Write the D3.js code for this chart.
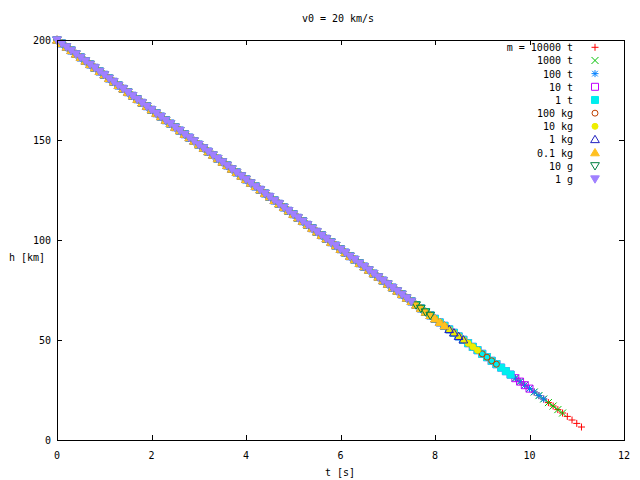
<!DOCTYPE html>
<html><head><meta charset="utf-8">
<script src="https://cdn.jsdelivr.net/npm/d3@7"></script>
<style>
html,body{margin:0;padding:0;background:#fff;}
text{font-family:"DejaVu Sans Mono",monospace;font-size:10px;fill:#000;}
</style></head><body>
<svg id="chart" width="640" height="480"></svg>
<script>
// Shared trajectory (t in s, h in km)
const trackTime = [0.0,0.1,0.2,0.3,0.4,0.5,0.6,0.7,0.8,0.9,1.0,1.1,1.2,1.3,1.4,1.5,1.6,1.7,1.8,1.9,
2.0,2.1,2.2,2.3,2.4,2.5,2.6,2.7,2.8,2.9,3.0,3.1,3.2,3.3,3.4,3.5,3.6,3.7,3.8,3.9,
4.0,4.1,4.2,4.3,4.4,4.5,4.6,4.7,4.8,4.9,5.0,5.1,5.2,5.3,5.4,5.5,5.6,5.7,5.8,5.9,
6.0,6.1,6.2,6.3,6.4,6.5,6.6,6.7,6.8,6.9,7.0,7.1,7.2,7.3,7.4,7.5,7.6,7.7,7.8,7.9,
8.0,8.1,8.2,8.3,8.4,8.5,8.6,8.7,8.8,8.9,9.0,9.1,9.2,9.3,9.4,9.5,9.6,9.7,9.8,9.9,
10.0,10.1,10.2,10.3,10.4,10.5,10.6,10.7,10.8,10.9,11.0,11.1];
const trackHeight = [200.0,198.3,196.5,194.8,193.0,191.3,189.5,187.8,186.1,184.3,182.6,180.8,179.1,177.3,175.6,173.9,172.1,170.4,168.6,166.9,
165.1,163.4,161.7,159.9,158.2,156.4,154.7,152.9,151.2,149.5,147.7,146.0,144.2,142.5,140.7,139.0,137.3,135.5,133.8,132.0,
130.3,128.5,126.8,125.1,123.3,121.6,119.8,118.1,116.3,114.6,112.9,111.1,109.4,107.6,105.9,104.1,102.4,100.6,98.9,97.2,
95.4,93.7,91.9,90.2,88.4,86.7,85.0,83.2,81.5,79.7,78.0,76.2,74.5,72.8,71.0,69.3,67.5,65.8,64.0,62.3,
60.6,58.8,57.1,55.3,53.6,51.8,50.1,48.4,46.6,44.9,43.1,41.4,39.6,37.9,36.2,34.4,32.7,30.9,29.2,27.4,
25.7,24.0,22.2,20.5,18.7,17.0,15.2,13.5,11.8,10.0,8.3,6.5];

const seriesLabels = ["m = 10000 t","1000 t","100 t","10 t","1 t","100 kg","10 kg","1 kg","0.1 kg","10 g","1 g"];
const seriesEndTime = [11.1,10.7,10.3,10.0,9.6,9.3,8.9,8.6,8.2,7.9,7.5];
const seriesColors = ["#ff0000","#00c000","#0080ff","#c000ff","#00eeee","#c04000","#eeee00","#2020c0","#ffc020","#008040","#a080ff"];
const seriesMarkers = ["plus","cross","star","box","fbox","circle","fcircle","tri","ftri","itri","fitri"];

const xTicks = [0,2,4,6,8,10,12];
const yTicks = [0,50,100,150,200];

const svg = d3.select("#chart");
const L = 57, R = 624, T = 40, B = 440;
const x = d3.scaleLinear().domain([0,12]).range([L,R]);
const y = d3.scaleLinear().domain([0,200]).range([B,T]);

function markerPath(type){
  const s = 3.5;
  switch(type){
    case "plus": return `M${-s},0H${s}M0,${-s}V${s}`;
    case "cross": return `M${-s},${-s}L${s},${s}M${-s},${s}L${s},${-s}`;
    case "star": return `M${-s},0H${s}M0,${-s}V${s}M${-s*0.8},${-s*0.8}L${s*0.8},${s*0.8}M${-s*0.8},${s*0.8}L${s*0.8},${-s*0.8}`;
    case "box": case "fbox": return `M${-s},${-s}H${s}V${s}H${-s}Z`;
    case "circle": case "fcircle": return d3.symbol(d3.symbolCircle, 28)();
    case "tri": case "ftri": return `M0,${-s*1.2}L${s*1.25},${s*0.9}L${-s*1.25},${s*0.9}Z`;
    case "itri": case "fitri": return `M0,${s*1.2}L${s*1.25},${-s*0.9}L${-s*1.25},${-s*0.9}Z`;
  }
}
function isFilled(type){ return type.startsWith("f"); }

// plot series
const series = seriesLabels.map((lab,i)=>({
  label: lab, color: seriesColors[i], marker: seriesMarkers[i],
  points: trackTime.map((t,k)=>({t, h: trackHeight[k]})).filter(p=>p.t <= seriesEndTime[i] + 1e-9)
}));

const plot = svg.append("g");
series.forEach(s=>{
  const path = markerPath(s.marker);
  const filled = isFilled(s.marker);
  plot.append("g").selectAll("path").data(s.points).join("path")
    .attr("d", path)
    .attr("transform", d=>`translate(${x(d.t)},${y(d.h)})`)
    .attr("fill", filled ? s.color : "none")
    .attr("stroke", s.color)
    .attr("stroke-width", 1);
});

// frame
svg.append("rect").attr("x",L+0.5).attr("y",T+0.5).attr("width",R-L).attr("height",B-T)
  .attr("fill","none").attr("stroke","#000").attr("stroke-width",1).attr("shape-rendering","crispEdges");

// axes with inward ticks and mirrored ticks
const tl = 5;
const ax = svg.append("g").attr("shape-rendering","crispEdges").attr("stroke","#000");
xTicks.forEach(v=>{
  const px = Math.round(x(v))+0.5;
  ax.append("line").attr("x1",px).attr("x2",px).attr("y1",B).attr("y2",B-tl);
  ax.append("line").attr("x1",px).attr("x2",px).attr("y1",T).attr("y2",T+tl);
});
yTicks.forEach(v=>{
  const py = Math.round(y(v))+0.5;
  ax.append("line").attr("x1",L).attr("x2",L+tl).attr("y1",py).attr("y2",py);
  ax.append("line").attr("x1",R).attr("x2",R-tl).attr("y1",py).attr("y2",py);
});
svg.append("g").selectAll("text").data(xTicks).join("text")
  .attr("x",d=>x(d)).attr("y",B+19).attr("text-anchor","middle").text(d=>d);
svg.append("g").selectAll("text").data(yTicks).join("text")
  .attr("x",L-6).attr("y",d=>y(d)+4).attr("text-anchor","end").text(d=>d);

svg.append("text").attr("x",340).attr("y",476).attr("text-anchor","middle").text("t [s]");
svg.append("text").attr("x",9).attr("y",261).attr("text-anchor","start").text("h [km]");
svg.append("text").attr("x",338).attr("y",22).attr("text-anchor","middle").text("v0 = 20 km/s");

// legend
const leg = svg.append("g");
series.forEach((s,i)=>{
  const ly = 47.3 + i*13.17;
  leg.append("text").attr("x",573).attr("y",ly+4).attr("text-anchor","end").text(s.label);
  leg.append("path").attr("d",markerPath(s.marker))
    .attr("transform",`translate(595,${ly})`)
    .attr("fill", isFilled(s.marker) ? s.color : "none")
    .attr("stroke", s.color).attr("stroke-width",1);
});
</script>
</body></html>
